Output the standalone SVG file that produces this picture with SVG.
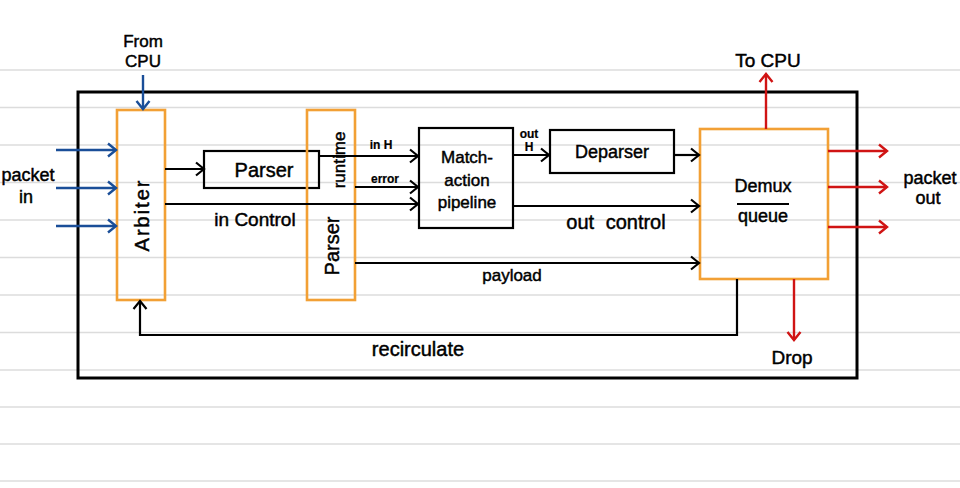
<svg xmlns="http://www.w3.org/2000/svg" width="960" height="488" viewBox="0 0 960 488">
<defs>
<style>
.grid{stroke:#dcdcdc;stroke-width:1.5}
.frame{fill:none;stroke:#000;stroke-width:3}
.box{fill:none;stroke:#000;stroke-width:2.2}
.obox{fill:none;stroke:#f2a035;stroke-width:2.6}
.lk{fill:none;stroke:#000;stroke-width:2.2}
.lb{fill:none;stroke:#1a4e98;stroke-width:2.4}
.lr{fill:none;stroke:#d01414;stroke-width:2.4}
text{font-family:"Liberation Sans",Arial,sans-serif;fill:#000;stroke:#000;stroke-width:0.45;text-anchor:middle}
.t20{font-size:20px}
.t19{font-size:19px}
.t18{font-size:18px}
.t17{font-size:17px}
.t12{font-size:12px;font-weight:bold;stroke-width:0.2}
</style>
<marker id="ak" markerWidth="14" markerHeight="16" refX="11" refY="8" orient="auto" markerUnits="userSpaceOnUse"><path d="M3,1.5 L11,8 L3,14.5" fill="none" stroke="#000" stroke-width="2.2"/></marker>
<marker id="ab" markerWidth="14" markerHeight="16" refX="11" refY="8" orient="auto" markerUnits="userSpaceOnUse"><path d="M3,1.5 L11,8 L3,14.5" fill="none" stroke="#1a4e98" stroke-width="2.4"/></marker>
<marker id="ar" markerWidth="14" markerHeight="16" refX="11" refY="8" orient="auto" markerUnits="userSpaceOnUse"><path d="M3,1.5 L11,8 L3,14.5" fill="none" stroke="#d01414" stroke-width="2.4"/></marker>
</defs>
<rect width="960" height="488" fill="#fff"/>
<g id="notebook-lines">
<line class="grid" x1="0" y1="70" x2="960" y2="70"/>
<line class="grid" x1="0" y1="107.5" x2="960" y2="107.5"/>
<line class="grid" x1="0" y1="145" x2="960" y2="145"/>
<line class="grid" x1="0" y1="182.5" x2="960" y2="182.5"/>
<line class="grid" x1="0" y1="220" x2="960" y2="220"/>
<line class="grid" x1="0" y1="257.5" x2="960" y2="257.5"/>
<line class="grid" x1="0" y1="295" x2="960" y2="295"/>
<line class="grid" x1="0" y1="332.5" x2="960" y2="332.5"/>
<line class="grid" x1="0" y1="370" x2="960" y2="370"/>
<line class="grid" x1="0" y1="407" x2="960" y2="407"/>
<line class="grid" x1="0" y1="444" x2="960" y2="444"/>
<line class="grid" x1="0" y1="481" x2="960" y2="481"/>
</g>
<g id="switch-frame"><rect class="frame" x="78" y="92" width="779" height="286"/></g>

<g id="arbiter"><rect class="obox" x="117" y="110" width="48" height="190"/>
<text class="t20" transform="translate(149,215) rotate(-90)" letter-spacing="2">Arbiter</text></g>
<g id="parser"><rect class="box" x="204" y="151" width="115" height="37"/><text class="t20" x="264" y="177">Parser</text></g>
<g id="parser-runtime"><rect class="obox" x="307" y="110" width="48" height="190"/>
<text class="t20" transform="translate(339,246) rotate(-90)">Parser</text>
<text class="t17" transform="translate(345,160) rotate(-90)">runtime</text></g>
<g id="match-action"><rect class="box" x="419" y="128" width="94" height="100"/>
<text class="t17" x="467" y="163">Match-</text>
<text class="t17" x="467" y="186">action</text>
<text class="t17" x="467" y="208">pipeline</text></g>
<g id="deparser"><rect class="box" x="550" y="130" width="124" height="43"/><text class="t18" x="612" y="158">Deparser</text></g>
<g id="demux"><rect class="obox" x="700" y="129" width="128" height="150"/>
<text class="t18" x="763" y="192">Demux</text>
<line x1="737" y1="204" x2="789" y2="204" stroke="#000" stroke-width="2.2"/>
<text class="t18" x="763" y="222">queue</text></g>

<g id="connectors">
<line class="lb" x1="143" y1="75" x2="143" y2="109" marker-end="url(#ab)"/>
<line class="lb" x1="56" y1="150" x2="116" y2="150" marker-end="url(#ab)"/>
<line class="lb" x1="56" y1="188" x2="116" y2="188" marker-end="url(#ab)"/>
<line class="lb" x1="56" y1="226" x2="116" y2="226" marker-end="url(#ab)"/>
<line class="lk" x1="165" y1="169" x2="204" y2="169" marker-end="url(#ak)"/>
<line class="lk" x1="165" y1="204" x2="418" y2="204" marker-end="url(#ak)"/>
<line class="lk" x1="319" y1="156" x2="418" y2="156" marker-end="url(#ak)"/>
<line class="lk" x1="355" y1="187" x2="418" y2="187" marker-end="url(#ak)"/>
<line class="lk" x1="513" y1="155" x2="549" y2="155" marker-end="url(#ak)"/>
<line class="lk" x1="674" y1="155" x2="699" y2="155" marker-end="url(#ak)"/>
<line class="lk" x1="513" y1="206" x2="699" y2="206" marker-end="url(#ak)"/>
<line class="lk" x1="355" y1="263" x2="699" y2="263" marker-end="url(#ak)"/>
<polyline class="lk" points="737,279 737,335 140,335 140,301" marker-end="url(#ak)"/>
<line class="lr" x1="766" y1="129" x2="766" y2="74" marker-end="url(#ar)"/>
<line class="lr" x1="794" y1="279" x2="794" y2="340" marker-end="url(#ar)"/>
<line class="lr" x1="828" y1="151" x2="887" y2="151" marker-end="url(#ar)"/>
<line class="lr" x1="828" y1="187" x2="887" y2="187" marker-end="url(#ar)"/>
<line class="lr" x1="828" y1="227" x2="887" y2="227" marker-end="url(#ar)"/>
</g>

<g id="labels">
<text class="t17" x="143" y="47">From</text>
<text class="t17" x="143" y="67">CPU</text>
<text class="t18" x="28" y="181">packet</text>
<text class="t18" x="26" y="203">in</text>
<text class="t19" x="255" y="226">in Control</text>
<text class="t12" x="381" y="149">in H</text>
<text class="t12" x="385" y="183">error</text>
<text class="t12" x="529" y="138">out</text>
<text class="t12" x="529" y="151">H</text>
<text class="t20" x="616" y="229" word-spacing="6">out control</text>
<text class="t17" x="512" y="281">payload</text>
<text class="t20" x="418" y="356">recirculate</text>
<text class="t19" x="768" y="67">To CPU</text>
<text class="t19" x="792" y="364">Drop</text>
<text class="t18" x="930" y="184">packet</text>
<text class="t18" x="928" y="204">out</text>
</g>
</svg>
